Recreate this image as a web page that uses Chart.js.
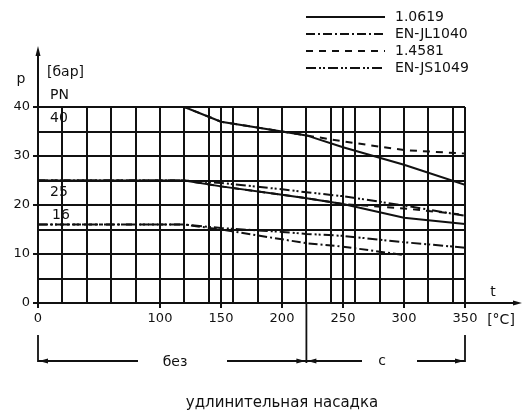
<!DOCTYPE html>
<html>
<head>
<meta charset="utf-8">
<script src="https://cdn.jsdelivr.net/npm/chart.js@4/dist/chart.umd.min.js"></script>
<style>
  html, body { margin: 0; background: #fff; }
  canvas { display: block; }
</style>
</head>
<body>
<canvas id="chart" width="526" height="412"></canvas>
<script>
// temperature points [°C]
const temps = [0, 120, 150, 200, 220, 250, 300, 350];

// pressure [bar]
const p1_0619_pn40 = [40, 40, 37.0, 35.0, 34.2, 31.8, 28.2, 24.1];
const p1_4581_pn40 = [40, 40, 37.0, 35.0, 34.2, 33.0, 31.2, 30.5];
const p1_0619_pn25 = [25, 25, 23.8, 22.1, 21.4, 20.2, 17.4, 16.1];
const p1_4581_pn25 = [25, 25, 23.8, 22.1, 21.4, 20.2, 19.3, 18.0];
const pJS1049_pn25 = [25, 25, 24.5, 23.2, 22.6, 21.8, 19.9, 17.8];
const pJS1049_pn16 = [16, 16, 15.3, 14.5, 14.1, 13.7, 12.4, 11.3];
const pJL1040_pn16 = [16, 16, 15.0, 13.0, 12.2, 11.5, 9.8, null];

const materials = ["1.0619", "EN-JL1040", "1.4581", "EN-JS1049"];
const pnLabels = ["40", "25", "16"];

const xGrid = [0, 20, 40, 60, 80, 100, 120, 140, 150, 160, 180, 200, 220, 240, 250, 260, 280, 300, 320, 340, 350];
const xLabels = [0, 100, 150, 200, 250, 300, 350];
const yGrid = [0, 5, 10, 15, 20, 25, 30, 35, 40];
const yLabels = [0, 10, 20, 30, 40];

const dashes = {
  "1.0619": [],
  "EN-JL1040": [9, 3, 2, 3],
  "1.4581": [7, 6],
  "EN-JS1049": [10, 3, 2, 2, 2, 3]
};

const series = [
  { mat: "1.4581", values: p1_4581_pn40 },
  { mat: "1.4581", values: p1_4581_pn25 },
  { mat: "EN-JS1049", values: pJS1049_pn25 },
  { mat: "EN-JS1049", values: pJS1049_pn16 },
  { mat: "EN-JL1040", values: pJL1040_pn16 },
  { mat: "1.0619", values: p1_0619_pn40 },
  { mat: "1.0619", values: p1_0619_pn25 }
];

const INK = "#111";
const FONT = "DejaVu Sans";

const datasets = series.map(s => ({
  label: s.mat,
  data: temps.map((t, i) => ({ x: t, y: s.values[i] })).filter(p => p.y !== null),
  borderColor: INK,
  borderWidth: 2,
  borderDash: dashes[s.mat],
  pointRadius: 0,
  fill: false,
  tension: 0
}));

const arrowHead = (ctx, x, y, dir) => {
  // dir: "left", "right", "up"
  ctx.beginPath();
  if (dir === "left") {
    ctx.moveTo(x, y); ctx.lineTo(x + 9, y - 2.5); ctx.lineTo(x + 9, y + 2.5);
  } else if (dir === "right") {
    ctx.moveTo(x, y); ctx.lineTo(x - 9, y - 2.5); ctx.lineTo(x - 9, y + 2.5);
  } else {
    ctx.moveTo(x, y); ctx.lineTo(x - 2.5, y + 10); ctx.lineTo(x + 2.5, y + 10);
  }
  ctx.closePath();
  ctx.fill();
};

const extras = {
  id: "extras",
  afterDraw(chart) {
    const ctx = chart.ctx;
    const xs = chart.scales.x, ys = chart.scales.y;
    const x0 = xs.getPixelForValue(0), x220 = xs.getPixelForValue(220), x350 = xs.getPixelForValue(350);
    const y0 = ys.getPixelForValue(0), y40 = ys.getPixelForValue(40);
    ctx.save();
    ctx.strokeStyle = INK;
    ctx.fillStyle = INK;
    ctx.lineWidth = 2;

    // axis extensions with arrows
    ctx.beginPath();
    ctx.moveTo(x0, y40); ctx.lineTo(x0, 52);
    ctx.moveTo(x350, y0); ctx.lineTo(516, y0);
    ctx.stroke();
    arrowHead(ctx, x0, 46, "up");
    arrowHead(ctx, 522, y0, "right");

    ctx.textBaseline = "middle";
    ctx.font = "14px " + FONT;
    ctx.textAlign = "center";
    ctx.fillText("p", 21, 79);
    ctx.fillText("t", 493, 292);
    ctx.fillText("[°C]", 501, 320);
    ctx.textAlign = "left";
    ctx.fillText("[бар]", 47, 72);
    ctx.fillText("PN", 50, 95);
    const pnY = [118, 192, 215];
    pnLabels.forEach((l, i) => ctx.fillText(l, i === 2 ? 52 : 50, pnY[i]));

    // legend
    materials.forEach((m, i) => {
      const y = 17 + i * 17;
      ctx.setLineDash(dashes[m]);
      ctx.lineWidth = 2;
      ctx.beginPath();
      ctx.moveTo(306, y); ctx.lineTo(385, y);
      ctx.stroke();
      ctx.setLineDash([]);
      ctx.fillText(m, 395, y);
    });

    // extension bracket
    ctx.lineWidth = 1.8;
    const yb = 361;
    ctx.beginPath();
    ctx.moveTo(x0, 335); ctx.lineTo(x0, yb + 1);
    ctx.moveTo(x350, 335); ctx.lineTo(x350, yb + 1);
    ctx.moveTo(x220, y0); ctx.lineTo(x220, yb + 2);
    ctx.moveTo(x0, yb); ctx.lineTo(138, yb);
    ctx.moveTo(227, yb); ctx.lineTo(x220, yb);
    ctx.moveTo(x220, yb); ctx.lineTo(362, yb);
    ctx.moveTo(417, yb); ctx.lineTo(x350, yb);
    ctx.stroke();
    arrowHead(ctx, x0 + 1, yb, "left");
    arrowHead(ctx, x220 - 1, yb, "right");
    arrowHead(ctx, x220 + 1, yb, "left");
    arrowHead(ctx, x350 - 1, yb, "right");

    ctx.textAlign = "center";
    ctx.fillText("без", 175, yb + 1);
    ctx.fillText("с", 382, yb);
    ctx.font = "15px " + FONT;
    ctx.fillText("удлинительная насадка", 282, 403);
    ctx.restore();
  }
};

new Chart(document.getElementById("chart"), {
  type: "line",
  data: { datasets },
  options: {
    responsive: false,
    animation: false,
    layout: { padding: { left: 0, right: 61, top: 107, bottom: 89 } },
    plugins: { legend: { display: false }, tooltip: { enabled: false } },
    scales: {
      x: {
        type: "linear",
        min: 0,
        max: 350,
        afterBuildTicks: s => { s.ticks = xGrid.map(v => ({ value: v })); },
        afterFit: s => { s.height = 20; },
        ticks: {
          autoSkip: false,
          maxRotation: 0,
          padding: 3,
          color: INK,
          font: { family: FONT, size: 13 },
          callback: v => xLabels.includes(v) ? String(v) : ""
        },
        grid: {
          color: INK,
          lineWidth: 2,
          tickLength: 5,
          tickColor: c => (c.tick && xLabels.includes(c.tick.value)) ? INK : "rgba(0,0,0,0)"
        },
        border: { color: INK, width: 2 }
      },
      y: {
        min: 0,
        max: 40,
        afterBuildTicks: s => { s.ticks = yGrid.map(v => ({ value: v })); },
        afterFit: s => { s.width = 38; },
        ticks: {
          padding: 3,
          color: INK,
          font: { family: FONT, size: 13 },
          callback: v => yLabels.includes(v) ? String(v) : ""
        },
        grid: {
          color: INK,
          lineWidth: 2,
          tickLength: 5,
          tickColor: c => (c.tick && yLabels.includes(c.tick.value)) ? INK : "rgba(0,0,0,0)"
        },
        border: { color: INK, width: 2 }
      }
    }
  },
  plugins: [extras]
});
</script>
</body>
</html>
